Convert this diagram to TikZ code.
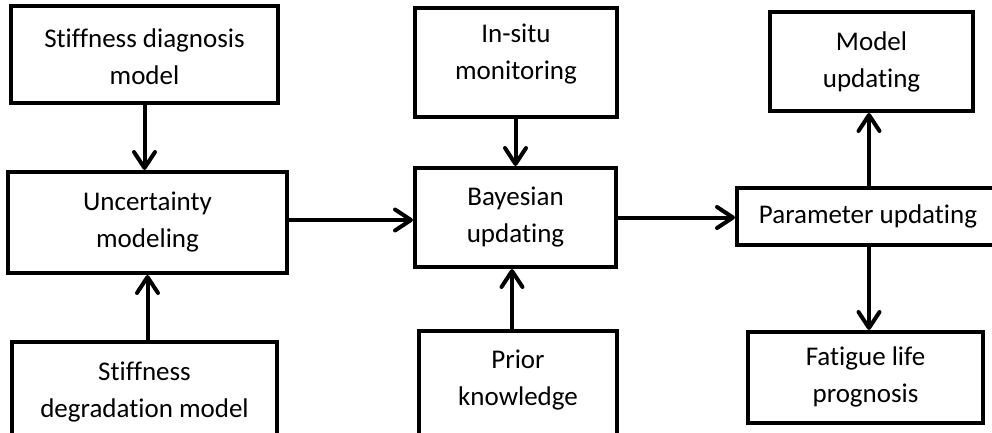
\documentclass[tikz,border=0pt]{standalone}
\usepackage{fontspec}
\setmainfont{Carlito}[Ligatures={NoCommon}]
\usetikzlibrary{arrows.meta}
\begin{document}
\begin{tikzpicture}[x=1pt,y=-1pt,
  box/.style={draw, line width=4pt, inner sep=0pt, fill=white},
  txt/.style={align=center, inner sep=0pt, font=\fontsize{27}{37}\selectfont},
  arr/.style={line width=4pt, -{Straight Barb[length=16pt,width=21pt,round]}}]
\useasboundingbox (0,0) rectangle (992,433);
\clip (0,0) rectangle (992,433);
% boxes
\node[box, minimum width=267pt, minimum height=97pt]  (diag)  at (144.5,54.5) {};
\node[box, minimum width=279pt, minimum height=101pt] (unc)   at (147.5,222.5) {};
\node[box, minimum width=265pt, minimum height=100pt] (degr)  at (144.5,392) {};
\node[box, minimum width=202pt, minimum height=109pt] (insitu) at (516,62.5) {};
\node[box, minimum width=201pt, minimum height=99pt]  (bayes) at (515.5,217.5) {};
\node[box, minimum width=198pt, minimum height=110pt] (prior) at (518,386) {};
\node[box, minimum width=203pt, minimum height=99pt]  (model) at (871.5,61.5) {};
\node[box, minimum width=262pt, minimum height=57pt]  (param) at (868,216.5) {};
\node[box, minimum width=235pt, minimum height=91pt]  (fatigue) at (865.5,377.5) {};
% texts
\node[txt] (tdiag)   at (144.5,57)  {Stiffness diagnosis\\model};
\node[txt] (tunc)    at (147.5,222) {Uncertainty\\modeling};
\node[txt] (tdegr)   at (144.5,392) {Stiffness\\degradation model};
\node[txt] (tinsitu) at (516,54)    {In-situ\\monitoring};
\node[txt] (tbayes)  at (515.5,217) {Bayesian\\updating};
\node[txt] (tprior)  at (518,380)   {Prior\\knowledge};
\node[txt] (tmodel)  at (871.5,62)  {Model\\updating};
\node[txt] (tparam)  at (868,216.5) {Parameter updating};
\node[txt] (tfat)    at (865.5,377) {Fatigue life\\prognosis};
% connectors
\draw[arr] (diag.south) -- (diag.south |- unc.north);
\draw[arr] (unc.south |- degr.north) -- (unc.south);
\draw[arr] ([yshift=2.5pt]unc.east) -- ([yshift=2.5pt]unc.east -| bayes.west);
\draw[arr] (bayes.north |- insitu.south) -- (bayes.north);
\draw[arr] ([xshift=-6pt]prior.north) -- ([xshift=-6pt]prior.north |- bayes.south);
\draw[arr] (bayes.east) -- (bayes.east -| param.west);
\draw[arr] ([xshift=1pt]param.north) -- ([xshift=1pt]param.north |- model.south);
\draw[arr] ([xshift=1pt]param.south) -- ([xshift=1pt]param.south |- fatigue.north);
\end{tikzpicture}
\end{document}
